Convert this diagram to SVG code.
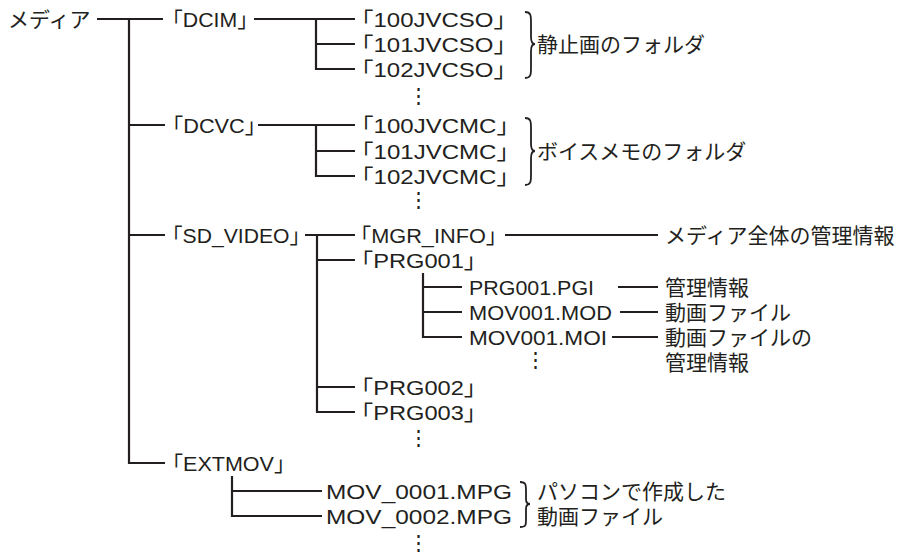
<svg xmlns="http://www.w3.org/2000/svg" width="904" height="558" viewBox="0 0 904 558">
<style>
text{font-family:"Liberation Sans","Noto Sans CJK JP",sans-serif;font-size:21px;fill:#231f20}
.dots{font-family:"Noto Sans CJK JP",sans-serif}
.ln{stroke:#231f20;stroke-width:2.2;fill:none}
.br{stroke:#231f20;stroke-width:1.8;fill:none}
</style>
<rect width="904" height="558" fill="#fff"/>
<g id="connectors" class="ln">
<path d="M97,19H163M129,19V463H165"/>
<path d="M129,125H165M129,235H165"/>
<path d="M254,19H355M316,19V69H355M316,44H355"/>
<path d="M258,125H355M316,125V176H355M316,151H355"/>
<path d="M305,235H355M317,235V412H355M317,260H355M317,387H355"/>
<path d="M505,235H658"/>
<path d="M423,273V337H462M423,287H462M423,312H462"/>
<path d="M618,287H658M620,312H658M612,337H658"/>
<path d="M232,476V516H322M232,491H322"/>
</g>
<g id="braces" class="br">
<path d="M525,12C531,12 531,16 531,22L531,37C531,41 532,44 535,44C532,44 531,47 531,51L531,68C531,74 531,78 525,78"/>
<path d="M525,118C531,118 531,122 531,128L531,144C531,148 532,151 535,151C532,151 531,154 531,158L531,175C531,181 531,185 525,185"/>
<path d="M520,482C526,482 526,485 526,490L526,499C526,502 527,504 530,504C527,504 526,506 526,509L526,520C526,525 526,527 520,527"/>
</g>
<g id="n-media"><text x="8" y="27">メディア</text></g>
<g id="n-dcim"><text x="161.5" y="27" textLength="97" lengthAdjust="spacingAndGlyphs">「DCIM」</text></g>
<g id="n-100jvcso"><text x="349.5" y="27" textLength="168" lengthAdjust="spacingAndGlyphs">「100JVCSO」</text></g>
<g id="n-101jvcso"><text x="349.5" y="52" textLength="168" lengthAdjust="spacingAndGlyphs">「101JVCSO」</text></g>
<g id="n-102jvcso"><text x="349.5" y="77" textLength="168" lengthAdjust="spacingAndGlyphs">「102JVCSO」</text></g>
<g id="n-dots1"><text class="dots" x="408" y="103">⋮</text></g>
<g id="n-still"><text x="537" y="52">静止画のフォルダ</text></g>
<g id="n-dcvc"><text x="161.5" y="133" textLength="105" lengthAdjust="spacingAndGlyphs">「DCVC」</text></g>
<g id="n-100jvcmc"><text x="349.5" y="133" textLength="171" lengthAdjust="spacingAndGlyphs">「100JVCMC」</text></g>
<g id="n-101jvcmc"><text x="349.5" y="159" textLength="171" lengthAdjust="spacingAndGlyphs">「101JVCMC」</text></g>
<g id="n-102jvcmc"><text x="349.5" y="184" textLength="171" lengthAdjust="spacingAndGlyphs">「102JVCMC」</text></g>
<g id="n-dots2"><text class="dots" x="408" y="207">⋮</text></g>
<g id="n-voice"><text x="537" y="159">ボイスメモのフォルダ</text></g>
<g id="n-sdvideo"><text x="161.5" y="243" textLength="149" lengthAdjust="spacingAndGlyphs">「SD_VIDEO」</text></g>
<g id="n-mgrinfo"><text x="349.5" y="243" textLength="158" lengthAdjust="spacingAndGlyphs">「MGR_INFO」</text></g>
<g id="n-mgrdesc"><text x="665" y="243">メディア全体の管理情報</text></g>
<g id="n-prg001"><text x="349.5" y="268" textLength="138" lengthAdjust="spacingAndGlyphs">「PRG001」</text></g>
<g id="n-pgi"><text x="469" y="295" textLength="125" lengthAdjust="spacingAndGlyphs">PRG001.PGI</text></g>
<g id="n-pgidesc"><text x="665" y="295">管理情報</text></g>
<g id="n-mod"><text x="469" y="320" textLength="143" lengthAdjust="spacingAndGlyphs">MOV001.MOD</text></g>
<g id="n-moddesc"><text x="665" y="320">動画ファイル</text></g>
<g id="n-moi"><text x="469" y="345" textLength="138" lengthAdjust="spacingAndGlyphs">MOV001.MOI</text></g>
<g id="n-moidesc"><text x="665" y="345">動画ファイルの</text><text x="665" y="370">管理情報</text></g>
<g id="n-dots3"><text class="dots" x="525" y="367">⋮</text></g>
<g id="n-prg002"><text x="349.5" y="395" textLength="138" lengthAdjust="spacingAndGlyphs">「PRG002」</text></g>
<g id="n-prg003"><text x="349.5" y="420" textLength="138" lengthAdjust="spacingAndGlyphs">「PRG003」</text></g>
<g id="n-dots4"><text class="dots" x="408" y="445">⋮</text></g>
<g id="n-extmov"><text x="161.5" y="471" textLength="134" lengthAdjust="spacingAndGlyphs">「EXTMOV」</text></g>
<g id="n-mpg1"><text x="326" y="499" textLength="186" lengthAdjust="spacingAndGlyphs">MOV_0001.MPG</text></g>
<g id="n-mpg2"><text x="326" y="524" textLength="186" lengthAdjust="spacingAndGlyphs">MOV_0002.MPG</text></g>
<g id="n-pcdesc"><text x="537" y="499">パソコンで作成した</text><text x="537" y="524">動画ファイル</text></g>
<g id="n-dots5"><text class="dots" x="408" y="550">⋮</text></g>
</svg>
